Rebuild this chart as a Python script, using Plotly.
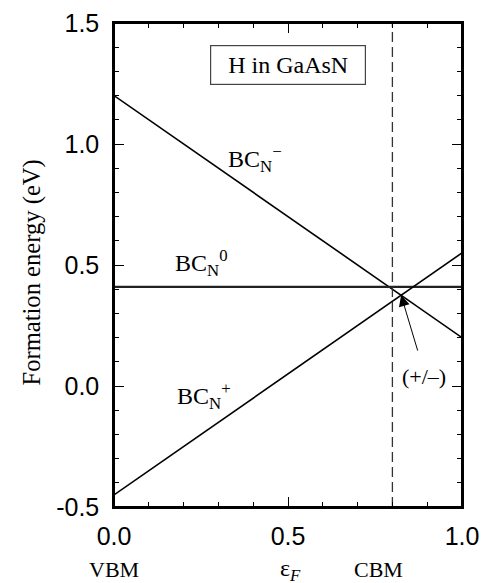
import plotly.graph_objects as go

# Data
fermi_x = [0.0, 1.0]
bcn_minus = [1.2, 0.2]
bcn_zero = [0.41, 0.41]
bcn_plus = [-0.45, 0.55]
cbm_x = 0.8
y_range = [-0.5, 1.5]
x_range = [0.0, 1.0]
x_ticks = [0.0, 0.5, 1.0]
x_ticklabels = ["0.0", "0.5", "1.0"]
y_ticks = [-0.5, 0.0, 0.5, 1.0, 1.5]
y_ticklabels = ["-0.5", "0.0", "0.5", "1.0", "1.5"]

SERIF = "Liberation Serif, Times New Roman, serif"
SANS = "Liberation Sans, Arial, sans-serif"

fig = go.Figure()
fig.add_trace(go.Scatter(x=fermi_x, y=bcn_minus, mode="lines",
                         line=dict(color="black", width=1.6), showlegend=False))
fig.add_trace(go.Scatter(x=fermi_x, y=bcn_zero, mode="lines",
                         line=dict(color="#222", width=2.2), showlegend=False))
fig.add_trace(go.Scatter(x=fermi_x, y=bcn_plus, mode="lines",
                         line=dict(color="black", width=1.6), showlegend=False))
fig.add_trace(go.Scatter(x=[cbm_x, cbm_x], y=y_range, mode="lines",
                         line=dict(color="#333", width=1.3, dash="10px,5px"), showlegend=False))

axis_common = dict(showline=True, linecolor="black", linewidth=1.5, mirror="ticks",
                   ticks="inside", ticklen=10, tickwidth=1.2, tickcolor="black",
                   showgrid=False, zeroline=False, automargin=False,
                   ticklabeloverflow="allow",
                   tickfont=dict(family=SANS, size=25, color="black"),
                   minor=dict(ticks="inside", ticklen=5, dtick=0.1, tickcolor="black",
                              tickwidth=1.2, showgrid=False))

fig.update_xaxes(range=x_range, tickvals=x_ticks, ticktext=x_ticklabels,
                 ticklabelstandoff=6, **axis_common)
fig.update_yaxes(range=y_range, tickvals=y_ticks, ticktext=y_ticklabels,
                 ticklabelstandoff=8, **axis_common)

# intersection of + and - lines
x_int = (bcn_minus[0] - bcn_plus[0]) / ((bcn_plus[1] - bcn_plus[0]) - (bcn_minus[1] - bcn_minus[0]))
y_int = bcn_plus[0] + (bcn_plus[1] - bcn_plus[0]) * x_int

annotations = [
    dict(x=0.5, y=1.325, text="H in GaAsN", showarrow=False,
         font=dict(family=SERIF, size=24, color="black"),
         bordercolor="#444", borderwidth=1.2, borderpad=6, width=142, bgcolor="white"),
    dict(x=0.405, y=0.94, text="BC<sub>N</sub><sup>\u2212</sup>", showarrow=False,
         font=dict(family=SERIF, size=24, color="black")),
    dict(x=0.25, y=0.51, text="BC<sub>N</sub><sup>0</sup>", showarrow=False,
         font=dict(family=SERIF, size=24, color="black")),
    dict(x=0.26, y=-0.04, text="BC<sub>N</sub><sup>+</sup>", showarrow=False,
         font=dict(family=SERIF, size=24, color="black")),
    dict(x=0.89, y=0.04, text="(+/\u2013)", showarrow=False,
         font=dict(family=SERIF, size=22, color="black")),
    dict(x=x_int, y=y_int, ax=0.874, ay=0.14, axref="x", ayref="y", text="",
         showarrow=True, arrowhead=2, arrowsize=2.2, arrowwidth=1, arrowcolor="black",
         standoff=0),
    dict(x=0.0, y=-0.13, xref="x", yref="paper", text="VBM", showarrow=False,
         xanchor="center", yanchor="middle",
         font=dict(family=SERIF, size=22, color="black")),
    dict(x=0.506, y=-0.13, xref="x", yref="paper", text="\u03b5<sub><i>F</i></sub>", showarrow=False,
         xanchor="center", yanchor="middle",
         font=dict(family=SERIF, size=24, color="black")),
    dict(x=0.76, y=-0.13, xref="x", yref="paper", text="CBM", showarrow=False,
         xanchor="center", yanchor="middle",
         font=dict(family=SERIF, size=22, color="black")),
    dict(x=-0.237, y=0.5, xref="paper", yref="paper", yshift=-8, text="Formation energy (eV)",
         showarrow=False, textangle=-90, xanchor="center", yanchor="middle",
         font=dict(family=SERIF, size=24.6, color="black")),
]

# plot frame drawn explicitly so the top edge is always visible
frame = dict(type="rect", xref="paper", yref="paper", x0=0, y0=0, x1=1, y1=1,
             line=dict(color="black", width=2), layer="above")

# The page body has an 8px default margin; size the figure so the plot area
# lands at the same window pixels as the reference.
fig.update_layout(width=480, height=575,
                  margin=dict(l=106, r=26, t=15, b=76, autoexpand=False),
                  plot_bgcolor="white", paper_bgcolor="white",
                  annotations=annotations, shapes=[frame])

fig.write_html("out.html")
